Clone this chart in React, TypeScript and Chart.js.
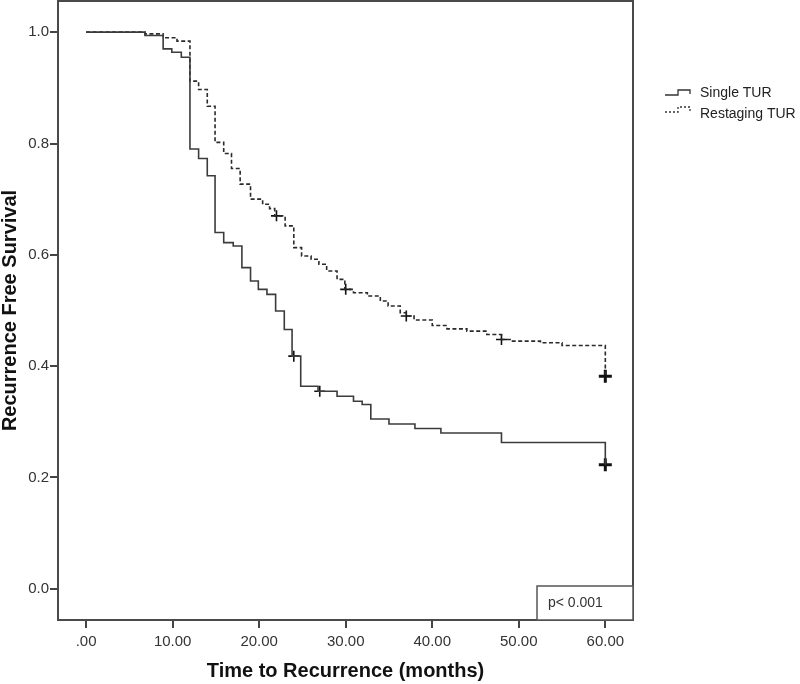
import React, { useEffect, useRef } from 'react';
import { Chart, registerables } from 'chart.js';
Chart.register(...registerables);

const seriesNames = ['Single TUR', 'Restaging TUR'];

const singleTimes = [0, 6.8, 8.9, 9.9, 11.0, 12.0, 13.0, 14.0, 14.9, 15.9, 17.0, 18.0, 19.0, 19.9, 20.9, 21.9, 22.9, 23.8, 24.8, 26.8, 29.0, 30.9, 31.9, 32.9, 35.0, 38.0, 41.0, 48.0, 60.0];
const singleSurv = [1.0, 0.994, 0.970, 0.964, 0.955, 0.790, 0.773, 0.742, 0.640, 0.622, 0.616, 0.577, 0.553, 0.538, 0.529, 0.499, 0.466, 0.418, 0.364, 0.355, 0.346, 0.337, 0.331, 0.305, 0.296, 0.288, 0.280, 0.263, 0.223];
const singleCensorTimes = [24.0, 27.0, 60.0];
const singleCensorSurv = [0.418, 0.355, 0.223];

const restTimes = [0, 6.8, 8.9, 10.5, 12.0, 13.0, 14.0, 14.9, 15.9, 16.8, 17.8, 19.0, 20.4, 21.2, 21.8, 23.0, 24.0, 24.9, 26.0, 26.9, 27.8, 29.0, 29.9, 30.9, 32.5, 34.0, 34.9, 36.3, 37.0, 37.9, 40.0, 41.7, 44.0, 46.3, 48.0, 49.0, 52.5, 55.0, 60.0];
const restSurv = [1.0, 0.997, 0.990, 0.984, 0.912, 0.897, 0.867, 0.802, 0.782, 0.755, 0.727, 0.700, 0.691, 0.683, 0.670, 0.652, 0.613, 0.598, 0.592, 0.583, 0.571, 0.556, 0.538, 0.532, 0.526, 0.517, 0.508, 0.496, 0.490, 0.483, 0.473, 0.467, 0.463, 0.457, 0.448, 0.445, 0.442, 0.437, 0.382];
const restCensorTimes = [22.0, 30.0, 37.0, 48.0, 60.0];
const restCensorSurv = [0.670, 0.538, 0.490, 0.448, 0.382];

const xTicks = [0, 10, 20, 30, 40, 50, 60];
const xTickLabels = ['.00', '10.00', '20.00', '30.00', '40.00', '50.00', '60.00'];
const yTicks = [0, 0.2, 0.4, 0.6, 0.8, 1.0];
const yTickLabels = ['0.0', '0.2', '0.4', '0.6', '0.8', '1.0'];

const xTitle = 'Time to Recurrence (months)';
const yTitle = 'Recurrence Free Survival';
const pValueText = 'p< 0.001';

const FONT = "'Liberation Sans', Arial, sans-serif";

export default function App() {
  const ref = useRef<HTMLCanvasElement>(null);

  useEffect(() => {
    const canvas = ref.current!;
    const toPts = (xs: number[], ys: number[]) => xs.map((x, i) => ({ x, y: ys[i] }));

    const framePlugin = {
      id: 'frameAndExtras',
      afterDraw(chart: any) {
        const { ctx, chartArea: a } = chart;
        ctx.save();
        ctx.strokeStyle = '#4a4a4a';
        ctx.lineWidth = 2;
        ctx.setLineDash([]);
        ctx.strokeRect(a.left, a.top, a.right - a.left, a.bottom - a.top);

        // p-value box
        const bx = a.right - 96, by = a.bottom - 34;
        ctx.fillStyle = '#fff';
        ctx.fillRect(bx, by, a.right - bx, a.bottom - by);
        ctx.lineWidth = 1.5;
        ctx.strokeStyle = '#555';
        ctx.strokeRect(bx, by, a.right - bx, a.bottom - by);
        ctx.fillStyle = '#333';
        ctx.font = `14px ${FONT}`;
        ctx.textBaseline = 'middle';
        ctx.textAlign = 'left';
        ctx.fillText(pValueText, bx + 11, by + 17);

        // legend
        const lx = a.right + 32;
        const drawIcon = (y: number, dashed: boolean) => {
          ctx.beginPath();
          ctx.lineWidth = 1.3;
          ctx.strokeStyle = '#333';
          ctx.setLineDash(dashed ? [2, 2] : []);
          ctx.moveTo(lx, y + 2);
          ctx.lineTo(lx + 13, y + 2);
          ctx.lineTo(lx + 13, y - 3);
          ctx.lineTo(lx + 25, y - 3);
          ctx.lineTo(lx + 25, y + 1);
          ctx.stroke();
        };
        drawIcon(93, false);
        drawIcon(110, true);
        ctx.setLineDash([]);
        ctx.fillStyle = '#222';
        ctx.font = `14px ${FONT}`;
        ctx.fillText(seriesNames[0], lx + 35, 93);
        ctx.fillText(seriesNames[1], lx + 35, 114);
        ctx.restore();
      },
    };

    const tickFont = { family: FONT, size: 15 };
    const titleFont = { family: FONT, size: 20, weight: 'bold' as const };

    const chart = new Chart(canvas, {
      type: 'line',
      data: {
        datasets: [
          {
            label: seriesNames[0],
            data: toPts(singleTimes, singleSurv),
            stepped: true,
            borderColor: '#3c3c3c',
            borderWidth: 1.6,
            pointRadius: 0,
            fill: false,
          },
          {
            label: seriesNames[1],
            data: toPts(restTimes, restSurv),
            stepped: true,
            borderColor: '#2a2a2a',
            borderWidth: 1.6,
            borderDash: [4, 2.5],
            pointRadius: 0,
            fill: false,
          },
          {
            label: seriesNames[0] + ' censored',
            data: toPts(singleCensorTimes, singleCensorSurv),
            showLine: false,
            pointStyle: 'cross',
            pointRadius: (c: any) => (c.raw && c.raw.x >= 60 ? 6.5 : 5.5),
            pointBorderWidth: (c: any) => (c.raw && c.raw.x >= 60 ? 3 : 1.6),
            pointBorderColor: '#111',
            borderColor: '#111',
          },
          {
            label: seriesNames[1] + ' censored',
            data: toPts(restCensorTimes, restCensorSurv),
            showLine: false,
            pointStyle: 'cross',
            pointRadius: (c: any) => (c.raw && c.raw.x >= 60 ? 6.5 : 5.5),
            pointBorderWidth: (c: any) => (c.raw && c.raw.x >= 60 ? 3 : 1.6),
            pointBorderColor: '#111',
            borderColor: '#111',
          },
        ] as any,
      },
      options: {
        animation: false,
        responsive: false,
        devicePixelRatio: 1,
        layout: { autoPadding: false, padding: { left: 0, right: 167, top: 1, bottom: 0 } },
        plugins: {
          legend: { display: false },
          tooltip: { enabled: false },
        },
        scales: {
          x: {
            type: 'linear',
            min: -3.25,
            max: 63.2,
            afterBuildTicks: (s: any) => {
              s.ticks = xTicks.map((v) => ({ value: v }));
            },
            afterFit: (s: any) => {
              s.height = 64;
              s.paddingLeft = 0;
              s.paddingRight = 0;
            },
            ticks: {
              callback: (v: any) => xTickLabels[xTicks.indexOf(Number(v))],
              font: tickFont,
              color: '#333',
              padding: 5,
              maxRotation: 0,
              autoSkip: false,
            },
            grid: { drawOnChartArea: false, drawTicks: true, tickLength: 8, color: '#444', lineWidth: 2 },
            border: { display: true, color: '#444', width: 2 },
            title: { display: true, text: xTitle, font: titleFont, color: '#111', padding: { top: 0, bottom: 1 } },
          },
          y: {
            type: 'linear',
            min: -0.056,
            max: 1.056,
            afterBuildTicks: (s: any) => {
              s.ticks = yTicks.map((v) => ({ value: v }));
            },
            afterFit: (s: any) => {
              s.width = 58;
              s.paddingTop = 0;
              s.paddingBottom = 0;
            },
            ticks: {
              callback: (v: any) => yTickLabels[yTicks.findIndex((t) => Math.abs(t - Number(v)) < 1e-6)],
              font: tickFont,
              color: '#333',
              padding: 1,
              autoSkip: false,
            },
            grid: { drawOnChartArea: false, drawTicks: true, tickLength: 8, color: '#444', lineWidth: 2 },
            border: { display: true, color: '#444', width: 2 },
            title: { display: true, text: yTitle, font: titleFont, color: '#111', padding: { top: -2, bottom: 0 } },
          },
        },
      } as any,
      plugins: [framePlugin],
    });
    return () => chart.destroy();
  }, []);

  return (
    <div style={{ position: 'fixed', left: 0, top: 0, width: 800, height: 684, background: '#fff' }}>
      <canvas ref={ref} width={800} height={684} style={{ width: 800, height: 684, display: 'block' }} />
    </div>
  );
}
